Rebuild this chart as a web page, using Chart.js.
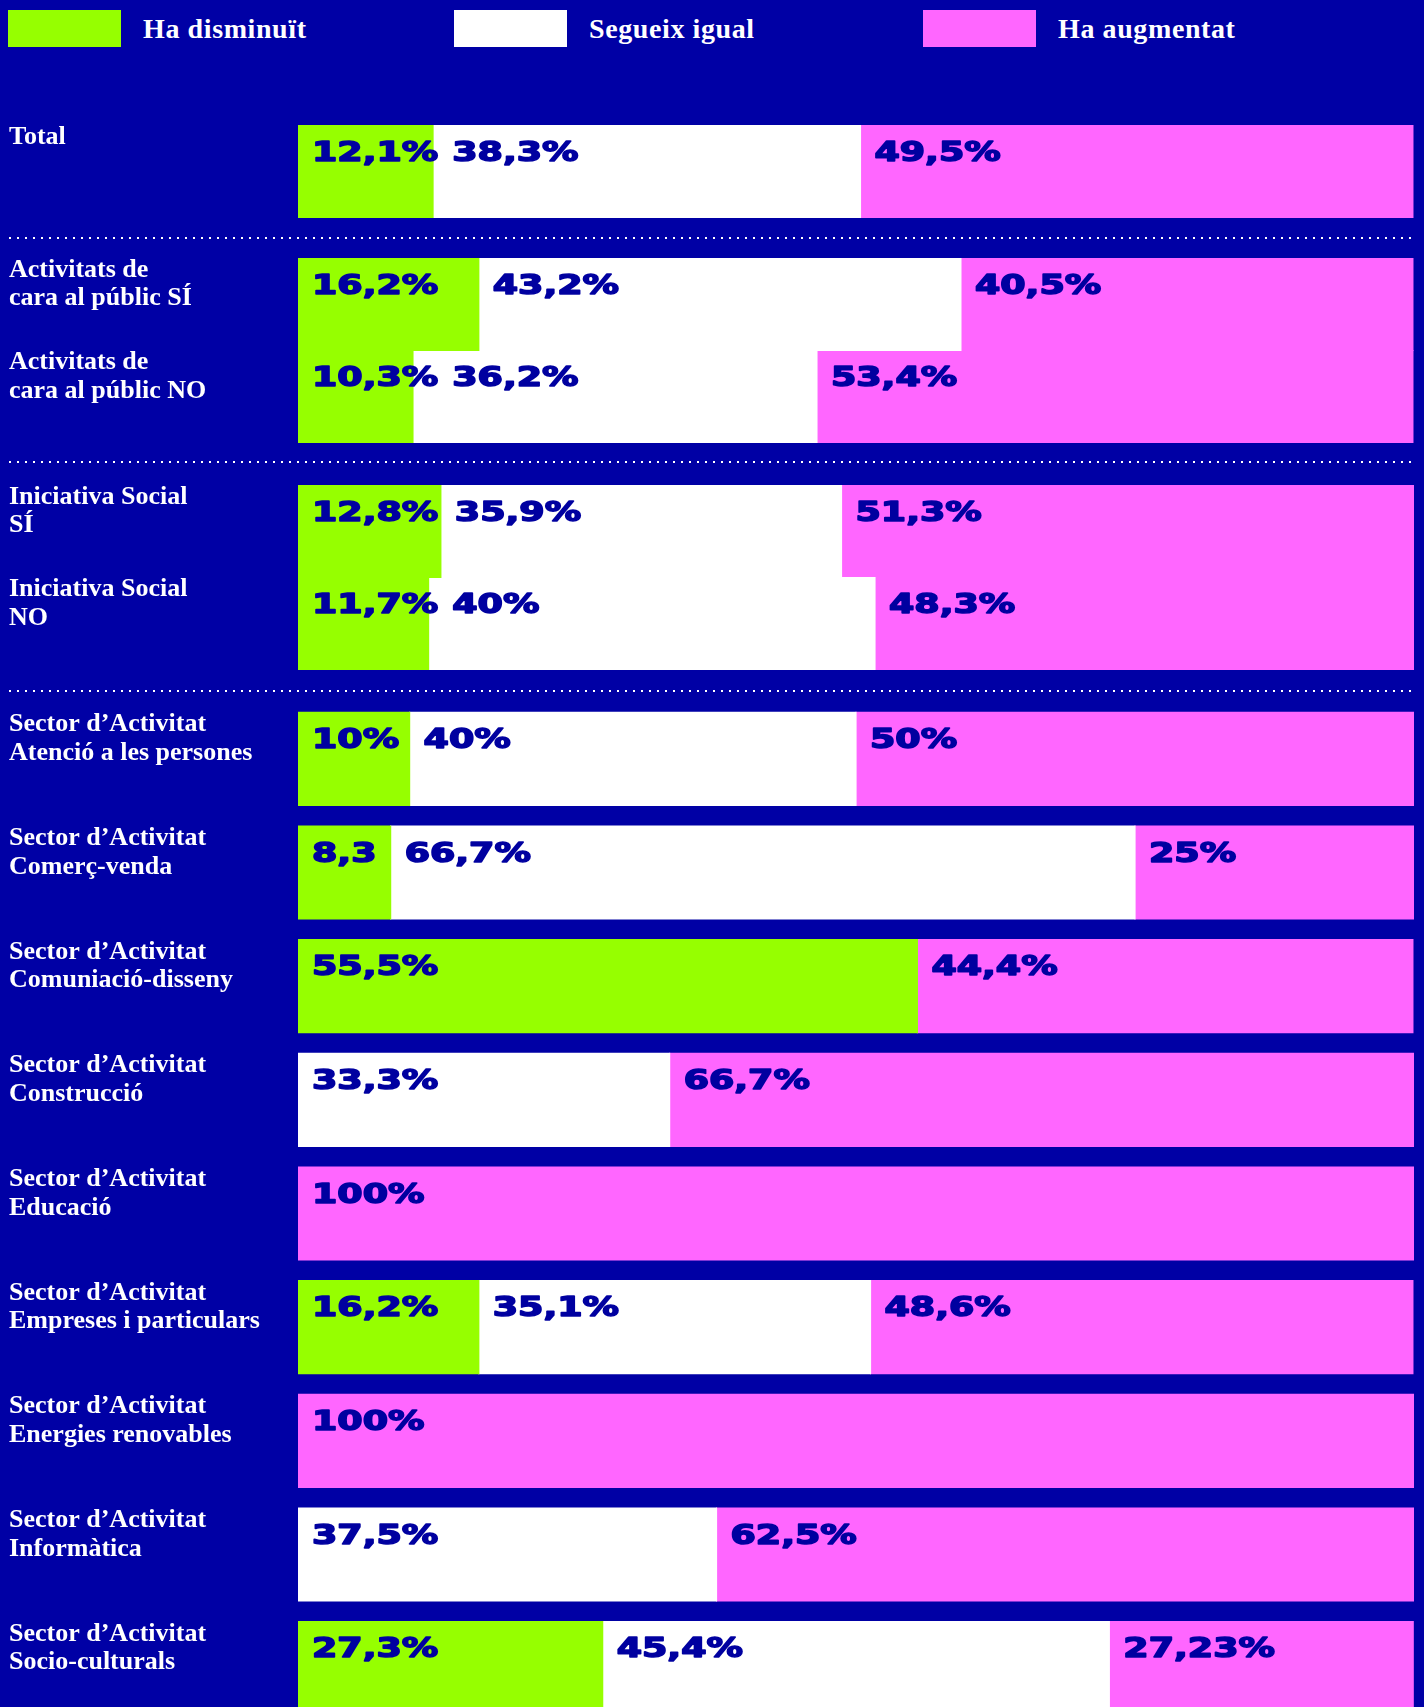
<!DOCTYPE html>
<html lang="ca">
<head>
<meta charset="utf-8">
<title>Evolució</title>
<script src="https://cdn.jsdelivr.net/npm/chart.js@4"></script>
<style>
  html, body { margin: 0; background: #0000a5; overflow: hidden; }
  #page { position: relative; width: 1424px; height: 1707px; overflow: hidden; }
  .box { position: absolute; left: 0; width: 1424px; }
  .sep {
    position: absolute; left: 9px; width: 1406px; height: 2px;
    background: repeating-linear-gradient(to right, #fff 0 2px, transparent 2px 8px);
  }
  .leg { position: absolute; top: 0; height: 60px; }
  .leg i { position: absolute; left: 0; top: 10px; width: 113px; height: 37px; }
  .leg span {
    position: absolute; left: 135px; top: 15px; white-space: nowrap;
    font: bold 28px/28px "Liberation Serif", serif; letter-spacing: 0.6px; color: #fff;
  }
</style>
</head>
<body>
<div id="page">
  <div id="legend"></div>
  <div class="box" style="top:125px;height:93px"><canvas id="cTotal"></canvas></div>
  <div class="sep" style="top:237px"></div>
  <div class="box" style="top:258px;height:185px"><canvas id="cPublic"></canvas></div>
  <div class="sep" style="top:461px"></div>
  <div class="box" style="top:485px;height:185px"><canvas id="cSocial"></canvas></div>
  <div class="sep" style="top:690px"></div>
  <div class="box" style="top:702px;height:1023px"><canvas id="cSector"></canvas></div>
</div>
<script>
// Sèries: ha disminuït / segueix igual / ha augmentat (percentatges)
const seriesNames = ["Ha disminuït", "Segueix igual", "Ha augmentat"]
const seriesColors = ["#96ff00", "#ffffff", "#ff66ff"]

const totalLabels = [["Total"]]
const totalDisminuit = [12.1]
const totalIgual = [38.3]
const totalAugmentat = [49.5]

const publicLabels = [
  ["Activitats de", "cara al públic SÍ"],
  ["Activitats de", "cara al públic NO"]
]
const publicDisminuit = [16.2, 10.3]
const publicIgual = [43.2, 36.2]
const publicAugmentat = [40.5, 53.4]

const socialLabels = [
  ["Iniciativa Social", "SÍ"],
  ["Iniciativa Social", "NO"]
]
const socialDisminuit = [12.8, 11.7]
const socialIgual = [35.9, 40]
const socialAugmentat = [51.3, 48.3]

const sectorLabels = [
  ["Sector d’Activitat", "Atenció a les persones"],
  ["Sector d’Activitat", "Comerç-venda"],
  ["Sector d’Activitat", "Comuniació-disseny"],
  ["Sector d’Activitat", "Construcció"],
  ["Sector d’Activitat", "Educació"],
  ["Sector d’Activitat", "Empreses i particulars"],
  ["Sector d’Activitat", "Energies renovables"],
  ["Sector d’Activitat", "Informàtica"],
  ["Sector d’Activitat", "Socio-culturals"]
]
const sectorDisminuit = [10, 8.3, 55.5, 0, 0, 16.2, 0, 0, 27.3]
const sectorIgual = [40, 66.7, 0, 33.3, 0, 35.1, 0, 37.5, 45.4]
const sectorAugmentat = [50, 25, 44.4, 66.7, 100, 48.6, 100, 62.5, 27.23]
// l'original escriu "8,3" sense el símbol %
const sectorDisminuitText = ["10%", "8,3", "55,5%", "", "", "16,2%", "", "", "27,3%"]

const fmt = v => String(v).replace(".", ",") + "%"

// Etiquetes de valor dins de cada segment, amb una lletra eixamplada.
// Si l'etiqueta anterior de la mateixa fila és massa llarga, es desplaça.
const valueLabels = {
  id: "valueLabels",
  afterDatasetsDraw(chart) {
    const ctx = chart.ctx
    const stretch = 1.4
    const lastEnd = []
    ctx.save()
    ctx.fillStyle = "#0000a0"
    ctx.strokeStyle = "#0000a0"
    ctx.lineWidth = 1.5
    ctx.lineJoin = "round"
    ctx.font = "bold 26px 'DejaVu Sans', sans-serif"
    ctx.textBaseline = "middle"
    chart.data.datasets.forEach((ds, di) => {
      chart.getDatasetMeta(di).data.forEach((bar, i) => {
        const v = ds.data[i]
        if (!v) return
        const text = ds.texts ? ds.texts[i] : fmt(v)
        const { y, base, height } = bar.getProps(["y", "base", "height"], true)
        const x = Math.max(base + 14, (lastEnd[i] || 0) + 14)
        lastEnd[i] = x + ctx.measureText(text).width * stretch
        ctx.save()
        ctx.translate(x, y - height / 2 + 29)
        ctx.scale(stretch, 1)
        ctx.strokeText(text, 0, 0)
        ctx.fillText(text, 0, 0)
        ctx.restore()
      })
    })
    ctx.restore()
  }
}

function makeChart(id, labels, series, barPct, labelOffset, texts) {
  return new Chart(document.getElementById(id), {
    type: "bar",
    data: {
      labels,
      datasets: series.map((values, i) => ({
        label: seriesNames[i],
        data: values,
        backgroundColor: seriesColors[i],
        borderWidth: 0,
        // tapa les juntes entre segments, però no dibuixa els valors zero
        inflateAmount: (c) => (c.raw ? 0.6 : 0),
        barPercentage: barPct,
        categoryPercentage: 1,
        texts: texts ? texts[i] : null
      }))
    },
    options: {
      indexAxis: "y",
      responsive: true,
      maintainAspectRatio: false,
      animation: false,
      layout: { padding: { left: 9, right: 10, top: 0, bottom: 0 } },
      plugins: { legend: { display: false }, tooltip: { enabled: false } },
      scales: {
        x: { stacked: true, min: 0, max: 100, display: false },
        y: {
          stacked: true,
          grid: { display: false, drawTicks: false },
          border: { display: false },
          // amplada fixa de l'eix i sense marge extra per a les etiquetes
          afterFit: (scale) => {
            scale.width = 289
            scale.paddingTop = 0
            scale.paddingBottom = 0
          },
          ticks: {
            color: "#ffffff",
            font: { family: "'Liberation Serif', serif", weight: "bold", size: 26, lineHeight: 1.1 },
            crossAlign: "far",
            padding: 0,
            autoSkip: false,
            labelOffset
          }
        }
      }
    },
    plugins: [valueLabels]
  })
}

// Llegenda en HTML, feta a partir de les sèries
const legendLeft = [8, 454, 923]
document.getElementById("legend").innerHTML = seriesNames.map((name, i) =>
  `<div class="leg" style="left:${legendLeft[i]}px"><i style="background:${seriesColors[i]}"></i><span>${name}</span></div>`
).join("")

makeChart("cTotal", totalLabels, [totalDisminuit, totalIgual, totalAugmentat], 1, -34.3)
makeChart("cPublic", publicLabels, [publicDisminuit, publicIgual, publicAugmentat], 1, -19.8)
makeChart("cSocial", socialLabels, [socialDisminuit, socialIgual, socialAugmentat], 1, -19.8)
makeChart("cSector", sectorLabels, [sectorDisminuit, sectorIgual, sectorAugmentat], 0.818, -20,
  [sectorDisminuitText, null, null])
</script>
</body>
</html>
